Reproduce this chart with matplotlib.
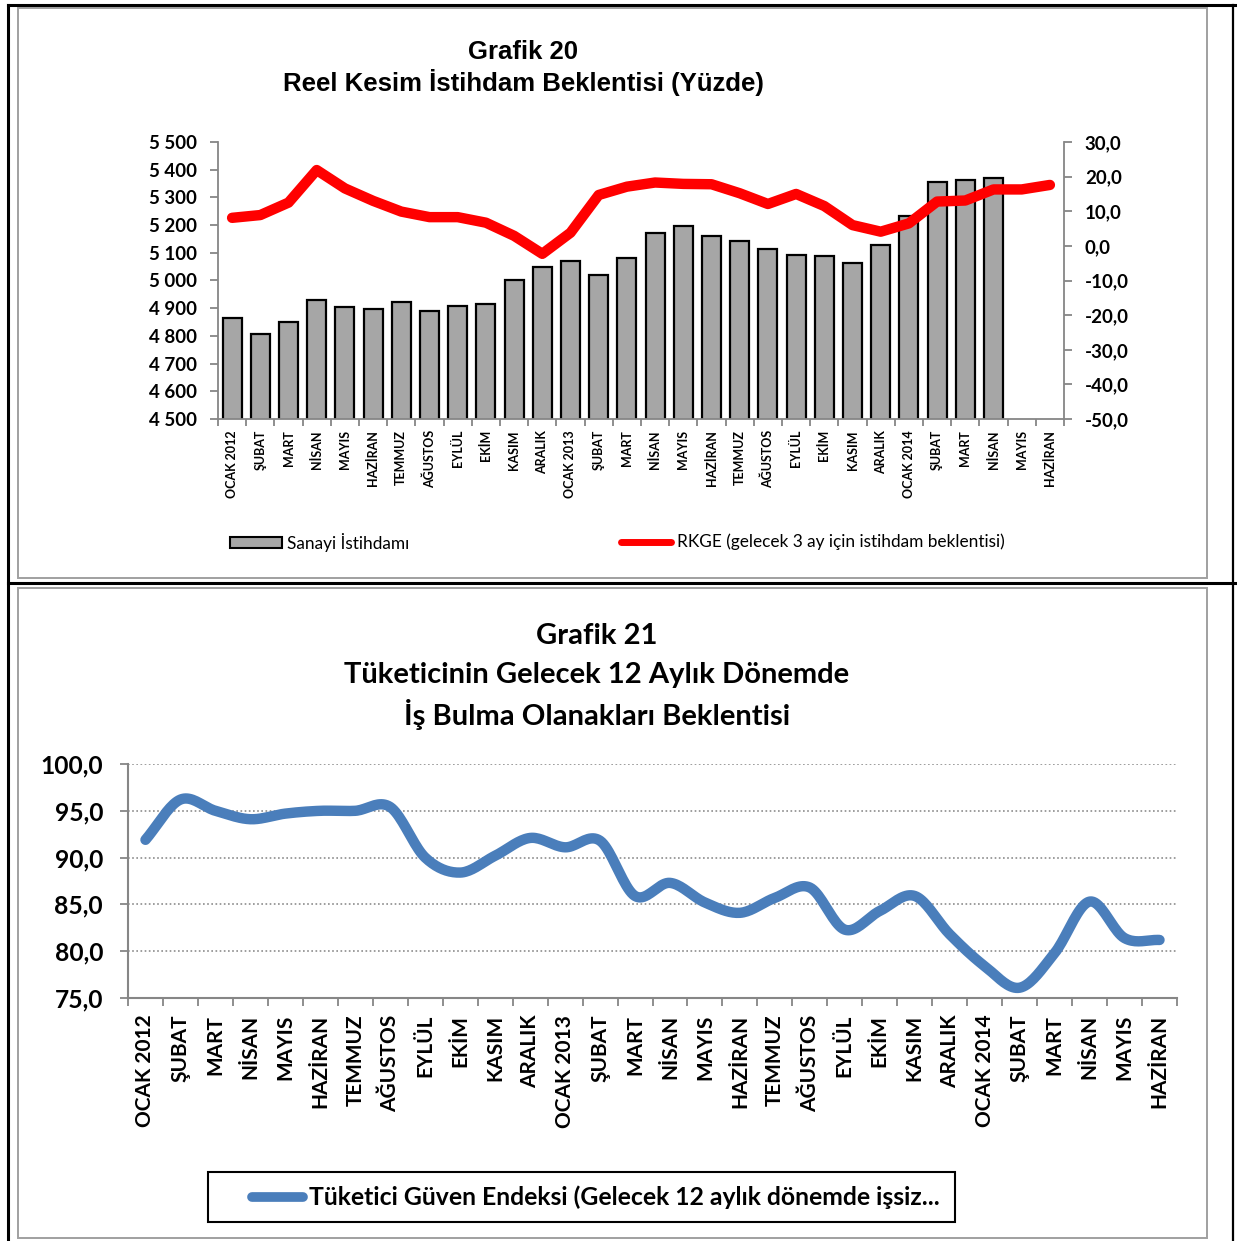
import numpy as np
import matplotlib
matplotlib.use("Agg")
import matplotlib.pyplot as plt
from matplotlib.patches import Rectangle
from matplotlib.lines import Line2D

# ---------------- data ----------------
months = ["OCAK 2012", "ŞUBAT", "MART", "NİSAN", "MAYIS", "HAZİRAN", "TEMMUZ",
          "AĞUSTOS", "EYLÜL", "EKİM", "KASIM", "ARALIK",
          "OCAK 2013", "ŞUBAT", "MART", "NİSAN", "MAYIS", "HAZİRAN", "TEMMUZ",
          "AĞUSTOS", "EYLÜL", "EKİM", "KASIM", "ARALIK",
          "OCAK 2014", "ŞUBAT", "MART", "NİSAN", "MAYIS", "HAZİRAN"]

sanayi_istihdami = [4863, 4806, 4849, 4928, 4906, 4898, 4923, 4890, 4908, 4916,
                    5001, 5050, 5069, 5021, 5081, 5172, 5198, 5161, 5144, 5115,
                    5093, 5088, 5062, 5128, 5232, 5357, 5363, 5371, None, None]

rkge = [8.1, 8.9, 12.5, 21.9, 16.6, 13.0, 9.9, 8.3, 8.3, 6.7, 2.9, -2.3,
        3.8, 14.7, 17.1, 18.3, 17.9, 17.8, 15.2, 12.1, 15.0, 11.5, 6.0, 4.1,
        6.5, 12.8, 13.1, 16.3, 16.3, 17.6]

tuketici = [91.9, 96.2, 95.0, 94.1, 94.7, 95.0, 95.0, 95.4, 90.0, 88.4, 90.2, 92.1,
            91.1, 91.8, 85.9, 87.3, 85.2, 84.1, 85.7, 86.8, 82.3, 84.3, 85.9, 81.8,
            78.4, 76.1, 79.8, 85.3, 81.4, 81.2]

left_ticks1 = [4500, 4600, 4700, 4800, 4900, 5000, 5100, 5200, 5300, 5400, 5500]
right_ticks1 = [-50, -40, -30, -20, -10, 0, 10, 20, 30]
ticks2 = [75, 80, 85, 90, 95, 100]

title1 = ["Grafik 20", "Reel Kesim İstihdam Beklentisi (Yüzde)"]
title2 = ["Grafik 21", "Tüketicinin Gelecek 12 Aylık Dönemde",
          "İş Bulma Olanakları Beklentisi"]
legend1_bar = "Sanayi İstihdamı"
legend1_line = "RKGE (gelecek 3 ay için istihdam beklentisi)"
legend2 = "Tüketici Güven Endeksi (Gelecek 12 aylık dönemde işsiz..."

# ---------------- layout helpers ----------------
W, H = 1237, 1241
fig = plt.figure(figsize=(W / 100, H / 100), dpi=100)
fig.patch.set_facecolor("white")

def fx(x):
    return x / W

def fy(y):
    return 1 - y / H

def rect(l, t, r, b):
    return [fx(l), fy(b), fx(r) - fx(l), fy(t) - fy(b)]

CAL = ["Lato", "DejaVu Sans"]
ARI = ["Liberation Sans", "DejaVu Sans"]
GRAY = "#868686"

# ---------------- frames ----------------
def fline(xs, ys, color="black", lw=2.0):
    fig.add_artist(Line2D([fx(x) for x in xs], [fy(y) for y in ys],
                          color=color, lw=lw, transform=fig.transFigure))

fline([8, 1237], [5, 5], lw=2.2)
fline([8, 8], [5, 1241], lw=2.2)
fline([1233, 1233], [5, 1241], lw=1.6)
fline([8, 1237], [583, 583], lw=2.2)
for (t, b) in [(8, 578), (588, 1238)]:
    fig.add_artist(Rectangle((fx(18), fy(b)), fx(1207) - fx(18), fy(t) - fy(b),
                             fill=False, edgecolor="#A0A0A0", lw=1.4,
                             transform=fig.transFigure))

def catmull(xs, ys, n=20):
    xs = np.asarray(xs, float); ys = np.asarray(ys, float)
    px = np.concatenate([[2 * xs[0] - xs[1]], xs, [2 * xs[-1] - xs[-2]]])
    py = np.concatenate([[2 * ys[0] - ys[1]], ys, [2 * ys[-1] - ys[-2]]])
    ox, oy = [], []
    t = np.linspace(0, 1, n, endpoint=False)
    for i in range(1, len(px) - 2):
        p0, p1, p2, p3 = (np.array([px[j], py[j]]) for j in (i - 1, i, i + 1, i + 2))
        b1 = p1 + (p2 - p0) / 6
        b2 = p2 - (p3 - p1) / 6
        seg = ((1 - t) ** 3)[:, None] * p1 + (3 * (1 - t) ** 2 * t)[:, None] * b1 \
            + (3 * (1 - t) * t ** 2)[:, None] * b2 + (t ** 3)[:, None] * p2
        ox.extend(seg[:, 0]); oy.extend(seg[:, 1])
    ox.append(xs[-1]); oy.append(ys[-1])
    return np.array(ox), np.array(oy)

# ---------------- chart 1 ----------------
n = len(months)
x = np.arange(n)
ax1 = fig.add_axes(rect(218, 142, 1064, 419))
ax1.set_facecolor("none")
bx = [i for i, v in enumerate(sanayi_istihdami) if v is not None]
bv = [v for v in sanayi_istihdami if v is not None]
ax1.bar(bx, bv, width=0.68, color="#A6A6A6", edgecolor="black", lw=1.6,
        zorder=2, label=legend1_bar)
ax1.set_ylim(4500, 5500)
ax1.set_xlim(-0.5, n - 0.5)
ax1.set_yticks(left_ticks1)
ax1.set_yticklabels([f"{v:,}".replace(",", " ") for v in left_ticks1],
                    fontfamily=CAL, fontweight="bold", fontsize=13.5)
ax1.set_xticks(x)
ax1.set_xticklabels(months, rotation=90, fontfamily=CAL, fontweight="bold", fontsize=9.0)
ax1.set_xticks(np.arange(n + 1) - 0.5, minor=True)
ax1.tick_params(axis="x", which="major", length=0, pad=8)
ax1.tick_params(axis="x", which="minor", length=5, color=GRAY, width=1.3, direction="out")
ax1.tick_params(axis="y", length=6, color=GRAY, width=1.3, direction="out", pad=9)
for s in ["top", "right"]:
    ax1.spines[s].set_visible(False)
for s in ["left", "bottom"]:
    ax1.spines[s].set_color(GRAY)
    ax1.spines[s].set_linewidth(1.3)

ax1r = ax1.twinx()
ax1r.plot(x, rkge, color="#FF0000", lw=7.5, solid_capstyle="round",
          solid_joinstyle="round", zorder=3, label=legend1_line)
ax1r.set_ylim(-50, 30)
ax1r.set_yticks(right_ticks1)
ax1r.set_yticklabels([f"{v:.1f}".replace(".", ",") for v in right_ticks1],
                     fontfamily=CAL, fontweight="bold", fontsize=13.5)
ax1r.tick_params(axis="y", length=6, color=GRAY, width=1.3, direction="out", pad=9)
for s in ["top", "left", "bottom"]:
    ax1r.spines[s].set_visible(False)
ax1r.spines["right"].set_color(GRAY)
ax1r.spines["right"].set_linewidth(1.3)

for txt, yy in zip(title1, [52, 82]):
    fig.text(fx(523), fy(yy), txt, ha="center", va="center", fontfamily=ARI,
             fontweight="bold", fontsize=18.5)

# legend 1 (manual placement)
fig.add_artist(Rectangle((fx(230), fy(548)), fx(282) - fx(230), fy(537) - fy(548),
                         facecolor="#A6A6A6", edgecolor="black", lw=1.5,
                         transform=fig.transFigure))
fig.text(fx(287), fy(542), legend1_bar, ha="left", va="center", fontfamily=CAL,
         fontsize=12.4)
fig.add_artist(Line2D([fx(621), fx(671)], [fy(542), fy(542)], color="#FF0000", lw=5,
                      solid_capstyle="round", transform=fig.transFigure))
fig.text(fx(677), fy(542), legend1_line, ha="left", va="center", fontfamily=CAL,
         fontsize=12.4)

# ---------------- chart 2 ----------------
ax2 = fig.add_axes(rect(128, 764, 1177, 998))
sx, sy = catmull(x, tuketici)
ax2.plot(sx, sy, color="#4A7EBB", lw=7.5, solid_capstyle="round",
         solid_joinstyle="round", zorder=3)
ax2.set_ylim(75, 100)
ax2.set_xlim(-0.5, n - 0.5)
ax2.set_yticks(ticks2)
ax2.set_yticklabels([f"{v:.1f}".replace(".", ",") for v in ticks2],
                    fontfamily=CAL, fontweight="bold", fontsize=17.7)
ax2.grid(axis="y", color="#8C8C8C", lw=1.2, linestyle=(0, (1, 1.5)))
ax2.set_axisbelow(True)
ax2.set_xticks(x)
ax2.set_xticklabels(months, rotation=90, fontfamily=CAL, fontweight="bold", fontsize=15)
ax2.set_xticks(np.arange(n + 1) - 0.5, minor=True)
ax2.tick_params(axis="x", which="major", length=0, pad=12)
ax2.tick_params(axis="x", which="minor", length=6, color=GRAY, width=1.3, direction="out")
ax2.tick_params(axis="y", length=6, color=GRAY, width=1.3, direction="out", pad=12)
for s in ["top", "right"]:
    ax2.spines[s].set_visible(False)
for s in ["left", "bottom"]:
    ax2.spines[s].set_color(GRAY)
    ax2.spines[s].set_linewidth(1.5)

for txt, yy in zip(title2, [636, 675, 714]):
    fig.text(fx(597), fy(yy), txt, ha="center", va="center", fontfamily=CAL,
             fontweight="bold", fontsize=21)

fig.add_artist(Rectangle((fx(208), fy(1222)), fx(955) - fx(208), fy(1172) - fy(1222),
                         fill=False, edgecolor="black", lw=1.5,
                         transform=fig.transFigure))
fig.add_artist(Line2D([fx(252), fx(303)], [fy(1197), fy(1197)], color="#4A7EBB", lw=7,
                      solid_capstyle="round", transform=fig.transFigure))
fig.text(fx(309), fy(1197), legend2, ha="left", va="center", fontfamily=CAL,
         fontweight="bold", fontsize=17.8)

fig.savefig("out.png", dpi=100)
